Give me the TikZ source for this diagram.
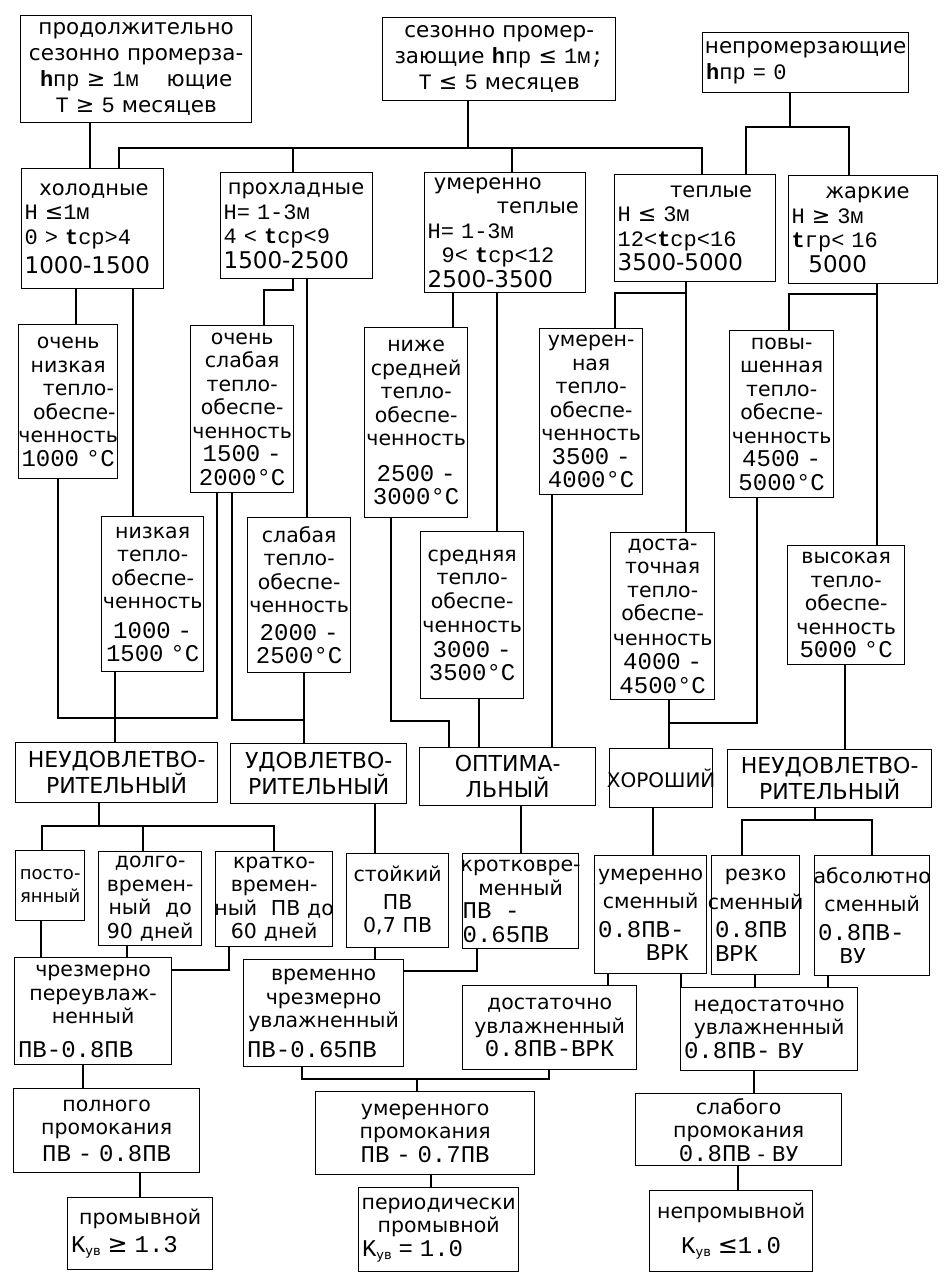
\documentclass[tikz,border=0pt]{standalone}
\usepackage{fontspec}
\setmainfont{DejaVu Sans}
\newfontfamily\monof{Liberation Mono}
\usetikzlibrary{positioning}

\newcommand\nm{\monof\fontsize{24}{25}\selectfont}
\newcommand\nmz{\monof\fontsize{22}{24}\selectfont}
\newcommand\GE{{\rmfamily\mdseries ≥}}
\newcommand\LE{{\rmfamily\mdseries ≤}}
\newcommand\lft[1]{\makebox[\hsize][l]{#1}}
\newcommand\Kuv{{\nm K}\raisebox{-3pt}{\fontsize{13}{13}\selectfont ув}}

\tikzset{
  box/.style={draw, line width=1.3pt, anchor=north west, inner sep=0pt, align=center,
    font=\fontsize{20.5}{23.5}\selectfont},
  topbox/.style={box, font=\fontsize{21.5}{26}\selectfont},
  zonebox/.style={box, align=left, inner xsep=3pt, font=\fontsize{21}{24.5}\selectfont},
  capbox/.style={box, font=\fontsize{22}{26}\selectfont},
  link/.style={line width=1.3pt},
}

\begin{document}
\begin{tikzpicture}[x=1pt,y=-1pt]
  \useasboundingbox (0,0) rectangle (944,1273);
  % freezing types
  \node[topbox, text width=231pt, minimum height=107pt] (prod) at (20,15)
    {продолжительно\\сезонно промерза-\\{\nmz\textbf{h}пр \GE{} 1м}\hspace{1.3em}ющие\\{\nmz Т \GE{} 5} месяцев};
  \node[topbox, text width=233pt, minimum height=83pt] (sezon) at (382,17)
    {сезонно промер-\\зающие {\nmz\textbf{h}пр \LE{} 1м;}\\{\nmz Т \LE{} 5} месяцев};
  \node[topbox, text width=206pt, minimum height=60pt] (neprom) at (702,32)
    {\makebox[\hsize]{непромерзающие}\\\lft{\,{\nmz\textbf{h}пр = 0}}};
  % thermal zones
  \node[zonebox, text width=136pt, minimum height=120pt] (hol) at (21,168)
    {\hspace*{0.7em}холодные\\{\nmz H \LE1м}\\{\nmz 0 > \textbf{t}ср>4}\\[5pt]{\fontsize{23}{24}\selectfont 1000-1500}};
  \node[zonebox, text width=146pt, minimum height=106pt] (prox) at (220,172)
    {\hspace*{0.2em}прохладные\\{\nmz H= 1-3м}\\{\nmz 4 < \textbf{t}ср<9}\\{\fontsize{23}{24}\selectfont 1500-2500}};
  \node[zonebox, text width=155pt, minimum height=120pt] (umt) at (424,172)
    {\hspace*{0.3em}умеренно\\\hspace*{3.3em}теплые\\{\nmz H= 1-3м}\\{\nmz\ \ 9< \textbf{t}ср<12}\\{\fontsize{23}{24}\selectfont 2500-3500}};
  \node[zonebox, text width=155pt, minimum height=107pt] (tep) at (614,174)
    {\hspace*{2.5em}теплые\\{\nmz H \LE{} 3м}\\{\nmz 12<\textbf{t}ср<16}\\{\fontsize{23}{24}\selectfont 3500-5000}};
  \node[zonebox, text width=143pt, minimum height=108pt] (zhar) at (788,175)
    {\hspace*{1.6em}жаркие\\{\nmz H \GE{} 3м}\\{\nmz \textbf{t}гр< 16}\\\hspace*{0.8em}{\fontsize{23}{24}\selectfont 5000}};
  % heat supply
  \node[box, text width=99pt, minimum height=154pt] (ovlow) at (18,324)
    {очень\\низкая\\\hspace*{1em}тепло-\\\hspace*{0.6em}обеспе-\\\makebox[\hsize]{ченность}\\{\nm 1000 °C}};
  \node[box, text width=102pt, minimum height=155pt] (low) at (101,516)
    {низкая\\тепло-\\обеспе-\\\makebox[\hsize]{ченность}\\[6pt]{\nm 1000 -}\\{\nm 1500 °C}};
  \node[box, text width=103pt, minimum height=167pt] (ovweak) at (190,325)
    {очень\\слабая\\тепло-\\обеспе-\\\makebox[\hsize]{ченность}\\{\nm 1500 -}\\{\nm 2000°C}};
  \node[box, text width=103pt, minimum height=155pt] (weak) at (247,517)
    {слабая\\тепло-\\обеспе-\\\makebox[\hsize]{ченность}\\[4pt]{\nm 2000 -}\\{\nm 2500°C}};
  \node[box, text width=103pt, minimum height=190pt] (belowmid) at (364,327)
    {ниже\\средней\\тепло-\\обеспе-\\\makebox[\hsize]{ченность}\\[12pt]{\nm 2500 -}\\{\nm 3000°C}};
  \node[box, text width=103pt, minimum height=167pt] (mid) at (420,531)
    {средняя\\тепло-\\обеспе-\\[1pt]\makebox[\hsize]{ченность}\\[1pt]{\nm 3000 -}\\{\nm 3500°C}};
  \node[box, text width=103pt, minimum height=166pt] (moder) at (539,328)
    {умерен-\\ная\\тепло-\\обеспе-\\\makebox[\hsize]{ченность}\\{\nm 3500 -}\\{\nm 4000°C}};
  \node[box, text width=104pt, minimum height=167pt] (suff) at (610,532)
    {доста-\\точная\\тепло-\\обеспе-\\[1pt]\makebox[\hsize]{ченность}\\[1pt]{\nm 4000 -}\\{\nm 4500°C}};
  \node[box, text width=104pt, minimum height=167pt] (raised) at (729,330)
    {повы-\\шенная\\тепло-\\обеспе-\\\makebox[\hsize]{ченность}\\{\nm 4500 -}\\{\nm 5000°C}};
  \node[box, text width=117pt, minimum height=119pt] (high) at (787,545)
    {высокая\\тепло-\\обеспе-\\ченность\\{\nm 5000 °C}};
  % regime classes
  \node[capbox, text width=202pt, minimum height=60pt] (unsatL) at (15,742) {НЕУДОВЛЕТВО-\\РИТЕЛЬНЫЙ};
  \node[capbox, text width=176pt, minimum height=60pt] (sat) at (230,743) {УДОВЛЕТВО-\\РИТЕЛЬНЫЙ};
  \node[capbox, text width=176pt, minimum height=58pt] (opt) at (419,747) {ОПТИМА-\\ЛЬНЫЙ};
  \node[capbox, text width=103pt, minimum height=59pt] (good) at (609,748)
    {\makebox[\hsize]{\fontsize{20}{24}\selectfont ХОРОШИЙ}};
  \node[capbox, text width=204pt, minimum height=58pt] (unsatR) at (727,749) {НЕУДОВЛЕТВО-\\РИТЕЛЬНЫЙ};
  % wetting regime
  \node[box, text width=69pt, minimum height=70pt, font=\fontsize{18}{23}\selectfont] (const) at (15,850)
    {\makebox[\hsize]{посто-}\\\makebox[\hsize]{янный}};
  \node[box, text width=103pt, minimum height=94pt] (longt) at (98,851)
    {долго-\\времен-\\ный\ \ до\\90 дней};
  \node[box, text width=117pt, minimum height=95pt] (shortt) at (215,851)
    {кратко-\\времен-\\\makebox[\hsize]{ный\ \ ПВ до}\\60 дней};
  \node[box, text width=102pt, minimum height=94pt] (stable) at (346,853)
    {стойкий\\[4pt]ПВ\\0,7 ПВ};
  \node[box, text width=116pt, minimum height=95pt] (shortt2) at (462,853)
    {\makebox[\hsize]{кротковре-}\\менный\\\lft{{\nm ПВ\ \ -}}\\\lft{{\nm 0.65ПВ}}};
  \node[box, text width=112pt, minimum height=118pt] (modch) at (594,855)
    {умеренно\\[5pt]сменный\\[5pt]\lft{\,{\nm 0.8ПВ-}}\\\lft{\hspace*{2.5em}{\nm ВРК}}};
  \node[box, text width=88pt, minimum height=119pt] (sharpch) at (711,855)
    {резко\\[5pt]\makebox[\hsize]{сменный}\\[5pt]\lft{\,{\nm 0.8ПВ}}\\\lft{\,{\nm ВРК}}};
  \node[box, text width=115pt, minimum height=120pt] (absch) at (814,855)
    {\makebox[\hsize]{абсолютно}\\[5pt]сменный\\[5pt]\lft{\,{\nm 0.8ПВ-}}\\\lft{\hspace*{1.2em}ВУ}};
  % moisture supply
  \node[box, text width=157pt, minimum height=107pt] (excess) at (14,957)
    {чрезмерно\\переувлаж-\\ненный\\[10pt]\lft{\,{\nm ПВ-0.8ПВ}}};
  \node[box, text width=160pt, minimum height=107pt] (tempex) at (243,959)
    {временно\\чрезмерно\\увлажненный\\[6pt]\lft{\,{\nm ПВ-0.65ПВ}}};
  \node[box, text width=174pt, minimum height=84pt] (adeq) at (462,985)
    {достаточно\\увлажненный\\{\nm 0.8ПВ-ВРК}};
  \node[box, text width=177pt, minimum height=83pt] (inadeq) at (680,987)
    {недостаточно\\увлажненный\\\lft{\,{\nm 0.8ПВ-} ВУ}};
  % soaking
  \node[box, text width=186pt, minimum height=84pt] (fullp) at (13,1088)
    {полного\\промокания\\[3pt]{\nm ПВ - 0.8ПВ}};
  \node[box, text width=219pt, minimum height=83pt] (modp) at (315,1091)
    {умеренного\\промокания\\{\nm ПВ - 0.7ПВ}};
  \node[box, text width=206pt, minimum height=72pt] (weakp) at (635,1093)
    {слабого\\промокания\\{\nm 0.8ПВ} - ВУ};
  % water regime
  \node[box, text width=145pt, minimum height=72pt] (wash) at (67,1197)
    {промывной\\[4pt]\lft{\,\Kuv{\nm\ \GE{} 1.3}}};
  \node[box, text width=160pt, minimum height=84pt] (perwash) at (358,1187)
    {периодически\\промывной\\\lft{\,\Kuv{\nm\ = 1.0}}};
  \node[box, text width=163pt, minimum height=81pt] (nowash) at (649,1190)
    {непромывной\\[12pt]{\Kuv{\nm\ \LE1.0}}};

  % freezing -> zones
  \draw[link] (prod.south -| 90,0) -- (hol.north -| 90,0);
  \draw[link] (sezon.south -| 468,0) -- (468,148);
  \draw[link] (hol.north -| 119,0) -- (119,148) -- (702,148) -- (tep.north -| 702,0);
  \draw[link] (prox.north -| 293,0) -- (293,148);
  \draw[link] (umt.north -| 512,0) -- (512,148);
  \draw[link] (neprom.south -| 790,0) -- (790,127);
  \draw[link] (tep.north -| 746,0) -- (746,127) -- (849,127) -- (zhar.north -| 849,0);
  % zones -> heat supply
  \draw[link] (hol.south -| 76,0) -- (ovlow.north -| 76,0);
  \draw[link] (hol.south -| 133,0) -- (low.north -| 133,0);
  \draw[link] (prox.south -| 293,0) -- (293,290) -- (264,290) -- (ovweak.north -| 264,0);
  \draw[link] (prox.south -| 307,0) -- (weak.north -| 307,0);
  \draw[link] (umt.south -| 453,0) -- (belowmid.north -| 453,0);
  \draw[link] (umt.south -| 497,0) -- (mid.north -| 497,0);
  \draw[link] (tep.south -| 686,0) -- (suff.north -| 686,0);
  \draw[link] (686,293) -- (615,293) -- (moder.north -| 615,0);
  \draw[link] (zhar.south -| 877,0) -- (high.north -| 877,0);
  \draw[link] (877,294) -- (789,294) -- (raised.north -| 789,0);
  % heat supply -> classes
  \draw[link] (ovlow.south -| 58,0) -- (58,718) -- (217,718) -- (ovweak.south -| 217,0);
  \draw[link] (low.south -| 115,0) -- (unsatL.north -| 115,0);
  \draw[link] (ovweak.south -| 232,0) -- (232,720) -- (304,720);
  \draw[link] (weak.south -| 304,0) -- (sat.north -| 304,0);
  \draw[link] (belowmid.south -| 391,0) -- (391,721) -- (449,721) -- (opt.north -| 449,0);
  \draw[link] (mid.south -| 479,0) -- (opt.north -| 479,0);
  \draw[link] (moder.south -| 552,0) -- (opt.north -| 552,0);
  \draw[link] (suff.south -| 669,0) -- (good.north -| 669,0);
  \draw[link] (raised.south -| 757,0) -- (757,723) -- (669,723);
  \draw[link] (high.south -| 845,0) -- (unsatR.north -| 845,0);
  % classes -> wetting
  \draw[link] (unsatL.south -| 99,0) -- (99,826);
  \draw[link] (const.north -| 42,0) -- (42,826) -- (274,826) -- (shortt.north -| 274,0);
  \draw[link] (longt.north -| 143,0) -- (143,826);
  \draw[link] (sat.south -| 375,0) -- (stable.north -| 375,0);
  \draw[link] (opt.south -| 521,0) -- (shortt2.north -| 521,0);
  \draw[link] (good.south -| 653,0) -- (modch.north -| 653,0);
  \draw[link] (unsatR.south -| 815,0) -- (815,820);
  \draw[link] (sharpch.north -| 742,0) -- (742,820) -- (872,820) -- (absch.north -| 872,0);
  % wetting -> moisture
  \draw[link] (const.south -| 41,0) -- (excess.north -| 41,0);
  \draw[link] (longt.south -| 127,0) -- (excess.north -| 127,0);
  \draw[link] (shortt.south -| 229,0) -- (229,970) -- (excess.east |- 0,970);
  \draw[link] (stable.south -| 375,0) -- (tempex.north -| 375,0);
  \draw[link] (shortt2.south -| 477,0) -- (477,971) -- (tempex.east |- 0,971);
  \draw[link] (modch.south -| 608,0) -- (adeq.north -| 608,0);
  \draw[link] (modch.south -| 681,0) -- (inadeq.north -| 681,0);
  \draw[link] (sharpch.south -| 755,0) -- (inadeq.north -| 755,0);
  \draw[link] (absch.south -| 828,0) -- (inadeq.north -| 828,0);
  % moisture -> soaking
  \draw[link] (excess.south -| 83,0) -- (fullp.north -| 83,0);
  \draw[link] (tempex.south -| 302,0) -- (302,1079) -- (549,1079) -- (adeq.south -| 549,0);
  \draw[link] (modp.north -| 417,0) -- (417,1079);
  \draw[link] (inadeq.south -| 754,0) -- (weakp.north -| 754,0);
  % soaking -> water regime
  \draw[link] (fullp.south -| 140,0) -- (wash.north -| 140,0);
  \draw[link] (modp.south -| 431,0) -- (perwash.north -| 431,0);
  \draw[link] (weakp.south -| 738,0) -- (nowash.north -| 738,0);
\end{tikzpicture}
\end{document}
